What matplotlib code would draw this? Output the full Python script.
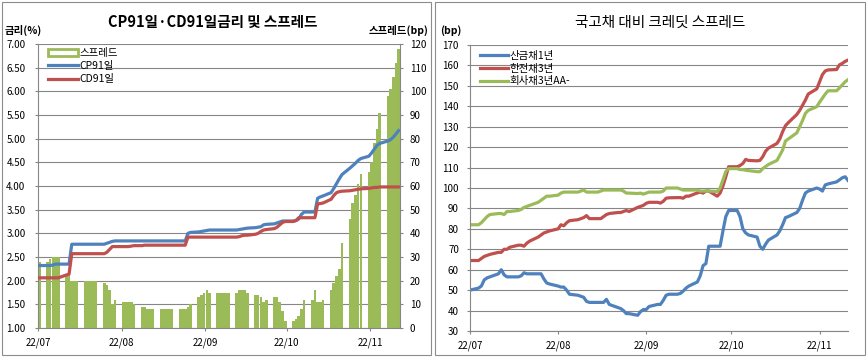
import matplotlib
matplotlib.use("Agg")
import matplotlib.pyplot as plt
import matplotlib.dates as mdates
from matplotlib.patches import Patch, Rectangle
from matplotlib.lines import Line2D
import pandas as pd

plt.rcParams['font.family'] = ['Noto Sans CJK KR', 'DejaVu Sans']
plt.rcParams['axes.unicode_minus'] = False

# 영업일 (2022-07-01 ~ 2022-11-11, 주말 제외)
days = pd.bdate_range('2022-07-01', '2022-11-11')
month_ticks = pd.date_range('2022-07-01', '2022-11-01', freq='MS')

# 왼쪽: CP91일 / CD91일 금리(%) 와 스프레드(bp)
spread_bp = [
    28,
    28, 29, 30, 30, 30,
    22, 24, 20, 20, 20,
    20, 20, 20, 20, 20,
    19, 18, 16, 10, 12,
    11, 11, 11, 11, 10,
    9, 9, 8, 8, 8,
    8, 8, 8, 8, 8,
    8, 8, 8, 9, 10,
    13, 14, 15, 16, 15,
    15, 15, 15, 15, 15,
    15, 16, 16, 16, 15,
    14, 14, 13, 11, 12,
    13, 13, 11, 7, 3,
    3, 4, 5, 8, 12,
    12, 16, 11, 11, 12,
    16, 19, 22, 25, 36,
    46, 53, 56, 61, 65,
    66, 70, 78, 84, 91,
    98, 101, 106, 112, 118,
]
cp91 = [
    2.32,
    2.32, 2.32, 2.33, 2.35, 2.35,
    2.35, 2.35, 2.77, 2.77, 2.77,
    2.77, 2.77, 2.77, 2.77, 2.77,
    2.77, 2.79, 2.81, 2.83, 2.84,
    2.84, 2.84, 2.84, 2.84, 2.84,
    2.84, 2.84, 2.84, 2.84, 2.84,
    2.84, 2.84, 2.84, 2.84, 2.84,
    2.84, 2.84, 2.84, 3.00, 3.02,
    3.03, 3.04, 3.05, 3.06, 3.07,
    3.07, 3.07, 3.07, 3.07, 3.07,
    3.07, 3.08, 3.09, 3.10, 3.11,
    3.12, 3.13, 3.14, 3.18, 3.19,
    3.20, 3.22, 3.24, 3.26, 3.26,
    3.26, 3.27, 3.30, 3.40, 3.45,
    3.45, 3.45, 3.74, 3.77, 3.79,
    3.86, 3.95, 4.05, 4.15, 4.24,
    4.38, 4.43, 4.48, 4.54, 4.58,
    4.63, 4.70, 4.78, 4.86, 4.90,
    4.95, 4.98, 5.03, 5.10, 5.17,
]
cd91 = [
    2.06,
    2.06, 2.06, 2.06, 2.06, 2.06,
    2.12, 2.14, 2.57, 2.57, 2.57,
    2.57, 2.57, 2.57, 2.57, 2.57,
    2.57, 2.60, 2.66, 2.72, 2.72,
    2.72, 2.72, 2.72, 2.73, 2.74,
    2.74, 2.75, 2.75, 2.75, 2.75,
    2.75, 2.75, 2.75, 2.75, 2.75,
    2.75, 2.75, 2.75, 2.92, 2.92,
    2.92, 2.92, 2.92, 2.92, 2.92,
    2.92, 2.92, 2.92, 2.92, 2.92,
    2.92, 2.93, 2.95, 2.96, 2.96,
    2.98, 3.00, 3.04, 3.07, 3.08,
    3.10, 3.13, 3.18, 3.23, 3.25,
    3.25, 3.27, 3.33, 3.33, 3.33,
    3.33, 3.33, 3.62, 3.63, 3.64,
    3.72, 3.80, 3.86, 3.88, 3.89,
    3.90, 3.91, 3.92, 3.93, 3.94,
    3.95, 3.96, 3.97, 3.97, 3.98,
    3.98, 3.98, 3.98, 3.98, 3.98,
]

# 오른쪽: 국고채 대비 크레딧 스프레드(bp)
kdb_1y = [
    50,
    51, 52, 55, 56, 56.5,
    58, 60, 57.5, 56.5, 56.5,
    56.5, 57, 58.5, 58, 58,
    58, 58, 55.5, 53.5, 53,
    52, 51.5, 51.5, 50, 48,
    47.5, 47, 46.5, 44.5, 44,
    44, 44, 44, 45.5, 43,
    41.5, 41, 40, 38.5, 38.5,
    37.7, 39.5, 40.5, 40.5, 42,
    43, 43, 45, 47.5, 48,
    48, 48.4, 49.5, 51, 52,
    54, 57, 62, 63, 71.5,
    71.5, 71.5, 79, 86, 89,
    89, 86, 80, 78, 77,
    76, 71.5, 70, 72.5, 74.5,
    77, 79, 82, 85.5, 86,
    88, 90, 94, 97.5, 98.5,
    100, 99.5, 98.5, 101.5, 102,
    103, 104, 105, 105.5, 103.7,
]
kepco_3y = [
    64.5,
    64.5, 65.5, 66.5, 67, 67.5,
    68.5, 68.5, 70, 70, 71,
    72, 72, 71.5, 73, 74,
    76, 77, 78, 78.5, 79,
    80, 82, 81.5, 83, 84,
    84.5, 85, 85.5, 86.5, 85,
    85, 85, 86, 87, 87.5,
    88, 88, 88.5, 89, 88.5,
    90.5, 91, 91.5, 92.5, 93,
    93, 92.6, 93.5, 95, 95.2,
    95.3, 95.3, 95, 96, 96,
    97.6, 98, 97.5, 98.5, 98.5,
    96, 97.5, 101, 105.5, 110.4,
    110.4, 111, 112, 114, 113.5,
    113.3, 113.5, 115.3, 118, 119.5,
    121.8, 124, 127.6, 130.5, 132,
    136, 138, 140.5, 143, 146,
    148.5, 152, 155.5, 157.3, 157.8,
    158, 160.3, 161, 162, 162.6,
]
corp_3y = [
    82,
    82, 83, 84.5, 86, 87,
    87.5, 87.5, 87, 88.5, 88.5,
    89, 89.5, 90.5, 91, 91.5,
    93, 94, 95, 96, 96,
    96.5, 97.5, 98, 98, 98,
    98, 98.5, 99, 98, 98,
    98, 98.5, 99, 99, 99,
    99, 99, 98.5, 97.5, 97.5,
    97.3, 97.5, 97, 97.5, 98,
    98, 98, 98.5, 100, 100,
    100, 99.5, 99, 99, 99,
    99, 98.5, 98.5, 98.5, 98.5,
    98.3, 100, 104, 108, 109.5,
    109.5, 109, 109, 108.7, 108.5,
    108, 108, 109.5, 110.5, 111.5,
    113.5, 116, 118.6, 123, 124,
    127, 130, 133, 136.5, 138,
    139.8, 142, 144, 146, 147.6,
    147.6, 149, 150.5, 152, 153,
]

BLUE = '#4F81BD'
RED = '#C0504D'
GREEN = '#9BBB59'
GRID = '#868686'

W, H = 867, 360
fig = plt.figure(figsize=(W / 100, H / 100), dpi=100)

# 패널 테두리
for x0, x1 in [(2, 431), (435, 865)]:
    fig.add_artist(Rectangle((x0 / W, 1 - 355 / H), (x1 - x0) / W, 353 / H,
                             transform=fig.transFigure, fill=False,
                             ec='#8c8c8c', lw=0.8))

xnum = mdates.date2num(days.to_pydatetime())
tick_num = mdates.date2num(month_ticks.to_pydatetime())
tick_lbl = [d.strftime('%y/%m') for d in month_ticks]

# ---------- 왼쪽 차트 ----------
axL = fig.add_axes([38 / W, 1 - 328 / H, 362 / W, 284 / H])
axR = axL.twinx()   # twinx가 axL 눈금을 왼쪽으로 옮기므로 먼저 만든다

axL.bar(xnum + 0.5, spread_bp, width=0.98, color=GREEN, lw=0, zorder=2)
axL.set_ylim(0, 120)
axL.set_yticks(range(0, 121, 10))
axL.yaxis.tick_right()
axL.set_xlim(xnum[0], xnum[-1] + 1)
axL.set_xticks(tick_num)
axL.set_xticklabels(tick_lbl)
axL.set_axisbelow(True)
axL.yaxis.grid(True, color=GRID, lw=0.8)
axL.tick_params(axis='y', length=2, pad=5, labelsize=7, color=GRID)
axL.tick_params(axis='x', length=2, pad=5, labelsize=7, color=GRID)
axL.spines['top'].set_visible(False)
for s in ['left', 'right', 'bottom']:
    axL.spines[s].set_color(GRID)

axR.plot(xnum + 0.5, cp91, color=BLUE, lw=2.3)
axR.plot(xnum + 0.5, cd91, color=RED, lw=2.3)
axR.set_ylim(1, 7)
axR.set_yticks([1 + 0.5 * i for i in range(13)])
axR.set_yticklabels([f'{1 + 0.5 * i:.2f}' for i in range(13)])
axR.yaxis.tick_left()
axR.tick_params(axis='y', length=2, pad=7, labelsize=7, color=GRID)
for s in axR.spines.values():
    s.set_visible(False)

handles = [Patch(facecolor='white', edgecolor=GREEN, lw=2),
           Line2D([], [], color=BLUE, lw=2.3),
           Line2D([], [], color=RED, lw=2.3)]
axR.legend(handles, ['스프레드', 'CP91일', 'CD91일'], loc='upper left',
           bbox_to_anchor=((48 - 38) / 362, (328 - 48) / 284),
           frameon=False, fontsize=7.5, borderpad=0, borderaxespad=0,
           handlelength=2.9, handletextpad=0.1, labelspacing=0.3)

fig.text(213 / W, 1 - 21.5 / H, 'CP91일·CD91일금리 및 스프레드',
         ha='center', va='center', fontsize=10.5, fontweight='bold')
fig.text(5 / W, 1 - 30 / H, '금리(%)', ha='left', va='center',
         fontsize=7.5, fontweight='bold')
fig.text(428 / W, 1 - 30 / H, '스프레드(bp)', ha='right', va='center',
         fontsize=7.5, fontweight='bold')

# ---------- 오른쪽 차트 ----------
axC = fig.add_axes([470 / W, 1 - 331 / H, 378 / W, 286 / H])
axC.plot(xnum, kdb_1y, color=BLUE, lw=2.3, label='산금채1년')
axC.plot(xnum, kepco_3y, color=RED, lw=2.3, label='한전채3년')
axC.plot(xnum, corp_3y, color=GREEN, lw=2.3, label='회사채3년AA-')
axC.set_ylim(30, 170)
axC.set_yticks(range(30, 171, 10))
axC.set_xlim(xnum[0], xnum[-1])
axC.set_xticks(tick_num)
axC.set_xticklabels(tick_lbl)
axC.set_axisbelow(True)
axC.yaxis.grid(True, color=GRID, lw=0.8)
axC.tick_params(axis='y', length=2, pad=6, labelsize=7, color=GRID)
axC.tick_params(axis='x', length=2, pad=5, labelsize=7, color=GRID)
for s in ['top', 'right']:
    axC.spines[s].set_visible(False)
for s in ['left', 'bottom']:
    axC.spines[s].set_color(GRID)
axC.legend(loc='upper left', bbox_to_anchor=((480 - 470) / 378, (331 - 51) / 286),
           frameon=False, fontsize=7.5, borderpad=0, borderaxespad=0,
           handlelength=2.7, handletextpad=0.1, labelspacing=0.25)

fig.text(660 / W, 1 - 23 / H, '국고채 대비 크레딧 스프레드',
         ha='center', va='center', fontsize=10.5)
fig.text(440 / W, 1 - 31 / H, '(bp)', ha='left', va='center',
         fontsize=7.5, fontweight='bold')

fig.savefig('out.png', dpi=100, facecolor='white')
